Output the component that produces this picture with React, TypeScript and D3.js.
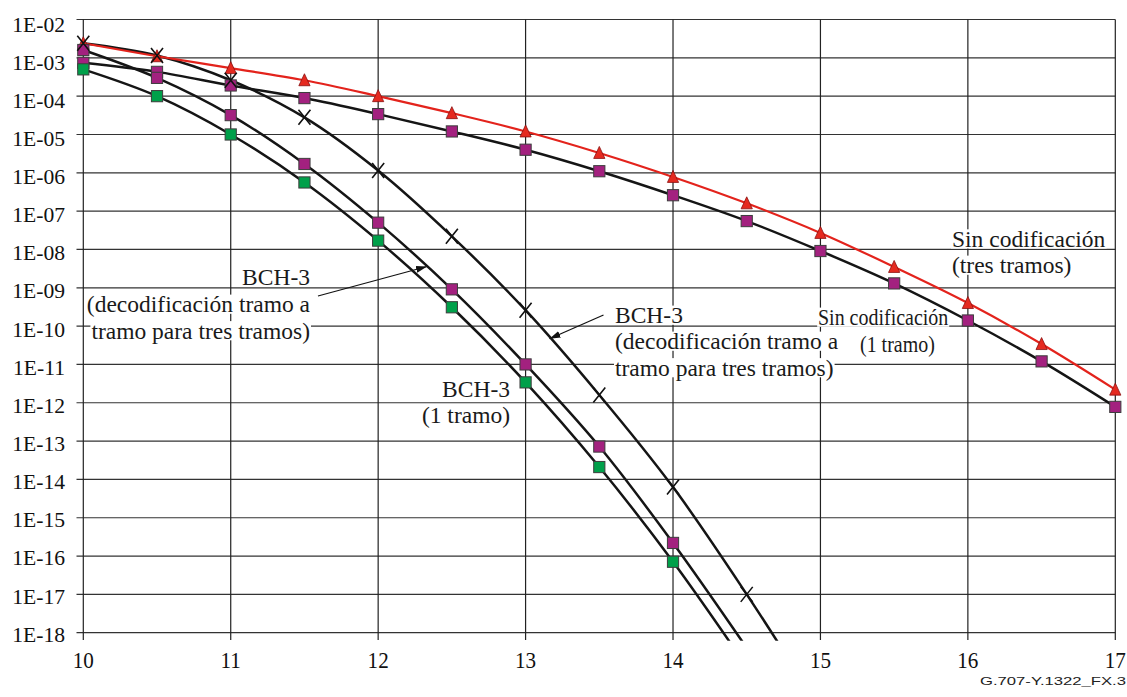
import React, { useEffect, useRef } from "react";
import * as d3 from "d3";

// ---- data ----
const xMain = [10, 10.5, 11, 11.5, 12, 12.5, 13, 13.5, 14, 14.5, 15, 15.5, 16, 16.5, 17];
// Sin codificación (tres tramos) – red triangles
const uncodedThreeSpans = [2.4e-3, 1.1e-3, 5.4e-4, 2.6e-4, 1.0e-4, 3.6e-5, 1.2e-5, 3.3e-6, 7.8e-7, 1.6e-7, 2.7e-8, 3.5e-9, 4.0e-10, 3.4e-11, 2.2e-12];
// Sin codificación (1 tramo) – purple squares
const uncodedOneSpan = [7.4e-4, 4.3e-4, 1.9e-4, 8.9e-5, 3.4e-5, 1.2e-5, 4.0e-6, 1.1e-6, 2.6e-7, 5.5e-8, 9.1e-9, 1.3e-9, 1.4e-10, 1.2e-11, 7.8e-13];
// BCH-3 (three spans, end-to-end) – X markers
const xBchThree = [10, 10.5, 11, 11.5, 12, 12.5, 13, 13.5, 14, 14.5, 15];
const bchThreeSpans = [2.4e-3, 1.15e-3, 2.6e-4, 2.8e-5, 1.15e-6, 2.2e-8, 2.6e-10, 1.6e-12, 6.3e-15, 1.0e-17, 1.0e-20];
// BCH-3 (decodificación tramo a tramo para tres tramos) – purple squares
const xBchDecoded = [10, 10.5, 11, 11.5, 12, 12.5, 13, 13.5, 14, 14.5];
const bchDecodedPerSpan = [1.6e-3, 3.0e-4, 3.2e-5, 1.7e-6, 5.0e-8, 9.1e-10, 1.0e-11, 7.2e-14, 2.2e-16, 4.0e-19];
// BCH-3 (1 tramo) – green squares
const xBchOne = [10, 10.5, 11, 11.5, 12, 12.5, 13, 13.5, 14, 14.5];
const bchOneSpan = [5.0e-4, 1.0e-4, 1.0e-5, 5.6e-7, 1.7e-8, 3.1e-10, 3.4e-12, 2.1e-14, 7.1e-17, 1.3e-19];

const xTicks = [10, 11, 12, 13, 14, 15, 16, 17];
const yTickExps = [-2, -3, -4, -5, -6, -7, -8, -9, -10, -11, -12, -13, -14, -15, -16, -17, -18];
const yTickLabels = yTickExps.map((e) => `1E-${String(-e).padStart(2, "0")}`);

const W = 1127;
const H = 697;
const SERIF = "'Liberation Serif', 'Times New Roman', serif";

export default function App() {
  const ref = useRef<SVGSVGElement | null>(null);

  useEffect(() => {
    document.body.style.margin = "0";
    const svg = d3.select(ref.current!);
    svg.selectAll("*").remove();

    const x = d3.scaleLinear().domain([10, 17]).range([83.3, 1115.3]);
    const y = d3.scaleLog().domain([1e-2, 1e-18]).range([19.5, 632.7]);
    const yMin = 1e-18;

    const defs = svg.append("defs");
    defs
      .append("clipPath")
      .attr("id", "plotclip")
      .append("rect")
      .attr("x", 0)
      .attr("y", 0)
      .attr("width", W)
      .attr("height", 640.7);
    defs
      .append("marker")
      .attr("id", "arrow")
      .attr("markerUnits", "userSpaceOnUse")
      .attr("markerWidth", 12)
      .attr("markerHeight", 8)
      .attr("refX", 11)
      .attr("refY", 4)
      .attr("orient", "auto")
      .append("path")
      .attr("d", "M0,0.5 L11,4 L0,7.5 Z")
      .attr("fill", "#111");

    svg.append("rect").attr("width", W).attr("height", H).attr("fill", "#fff");

    // grid
    const grid = svg.append("g");
    yTickExps.forEach((e) => {
      const yy = y(Math.pow(10, e));
      grid
        .append("line")
        .attr("x1", 76.5)
        .attr("x2", x(17))
        .attr("y1", yy)
        .attr("y2", yy)
        .attr("stroke", "#333")
        .attr("stroke-width", 1.2);
    });
    xTicks.forEach((t) => {
      grid
        .append("line")
        .attr("x1", x(t))
        .attr("x2", x(t))
        .attr("y1", y(1e-2))
        .attr("y2", 640)
        .attr("stroke", "#222")
        .attr("stroke-width", 1.2);
    });

    // tick labels
    const yl = svg.append("g").attr("font-family", SERIF).attr("font-size", 20).attr("fill", "#111");
    yTickExps.forEach((e, i) => {
      const yy = y(Math.pow(10, e)) + 12 - (3 * i) / 16;
      yl.append("text")
        .attr("transform", `translate(65,${yy}) scale(1.08,1)`)
        .attr("text-anchor", "end")
        .text(yTickLabels[i]);
    });
    const xl = svg.append("g").attr("font-family", SERIF).attr("font-size", 24).attr("fill", "#111");
    xTicks.forEach((t) => {
      xl.append("text")
        .attr("transform", `translate(${x(t)},668) scale(0.88,1)`)
        .attr("text-anchor", "middle")
        .text(String(t));
    });

    // annotations with white backing per line
    const ann = svg.append("g").attr("font-family", SERIF).attr("fill", "#1a1a1a");
    const addText = (str: string, tx: number, ty: number, anchor: string, fs: number, sx: number) => {
      const g = ann.append("g").attr("transform", `translate(${tx},${ty}) scale(${sx},1)`);
      const rect = g.append("rect").attr("fill", "#fff");
      const t = g.append("text").attr("text-anchor", anchor).attr("font-size", fs).text(str);
      const bb = (t.node() as SVGTextElement).getBBox();
      rect
        .attr("x", bb.x - 1)
        .attr("width", bb.width + 2)
        .attr("y", -0.74 * fs)
        .attr("height", 0.74 * fs + 1.8);
    };
    const FS = 23.5;
    addText("BCH-3", 310, 285, "end", FS, 1);
    addText("(decodificación tramo a", 310, 312, "end", FS, 1);
    addText("tramo para tres tramos)", 310, 338.5, "end", FS, 1);
    addText("BCH-3", 615, 323, "start", FS, 1);
    addText("(decodificación tramo a", 615, 349, "start", FS, 1);
    addText("tramo para tres tramos)", 615, 375.5, "start", FS, 1);
    addText("BCH-3", 510, 397, "end", FS, 1);
    addText("(1 tramo)", 510, 423, "end", FS, 1);
    addText("Sin codificación", 952, 246.7, "start", FS, 1);
    addText("(tres tramos)", 952, 273, "start", FS, 1);
    addText("Sin codificación", 818, 325, "start", FS, 0.85);
    addText("(1 tramo)", 860, 351.7, "start", FS, 0.85);

    // arrows
    svg
      .append("line")
      .attr("x1", 318)
      .attr("y1", 296)
      .attr("x2", 427)
      .attr("y2", 266.5)
      .attr("stroke", "#111")
      .attr("stroke-width", 1.2)
      .attr("marker-end", "url(#arrow)");
    svg
      .append("line")
      .attr("x1", 603.5)
      .attr("y1", 315)
      .attr("x2", 549.5)
      .attr("y2", 338.8)
      .attr("stroke", "#111")
      .attr("stroke-width", 1.2)
      .attr("marker-end", "url(#arrow)");

    // series
    const series = [
      { xs: xBchThree, ys: bchThreeSpans, color: "#151515", width: 2.5, marker: "x" },
      { xs: xMain, ys: uncodedOneSpan, color: "#151515", width: 2.5, marker: "purple" },
      { xs: xBchDecoded, ys: bchDecodedPerSpan, color: "#151515", width: 2.5, marker: "purple" },
      { xs: xBchOne, ys: bchOneSpan, color: "#151515", width: 2.5, marker: "green" },
      { xs: xMain, ys: uncodedThreeSpans, color: "#e3231c", width: 2.2, marker: "tri" },
    ];
    const line = d3
      .line<[number, number]>()
      .x((d) => x(d[0]))
      .y((d) => y(d[1]))
      .curve(d3.curveCatmullRom.alpha(0.5));
    const lg = svg.append("g").attr("clip-path", "url(#plotclip)");
    series.forEach((s) => {
      const pts = s.xs.map((xv, i) => [xv, s.ys[i]] as [number, number]);
      lg.append("path")
        .attr("d", line(pts)!)
        .attr("fill", "none")
        .attr("stroke", s.color)
        .attr("stroke-width", s.width)
        .attr("stroke-linejoin", "round");
    });

    const mg = svg.append("g");
    const markerOrder = [4, 1, 3, 2, 0];
    markerOrder.forEach((idx) => {
      const s = series[idx];
      s.xs.forEach((xv, i) => {
        const v = s.ys[i];
        if (v < yMin * 0.999) return;
        const cx = x(xv);
        const cy = y(v);
        if (s.marker === "purple" || s.marker === "green") {
          mg.append("rect")
            .attr("x", cx - 5.6)
            .attr("y", cy - 5.6)
            .attr("width", 11.2)
            .attr("height", 11.2)
            .attr("fill", s.marker === "purple" ? "#a3217f" : "#00a04a")
            .attr("stroke", "#3d3d3d")
            .attr("stroke-width", 1);
        } else if (s.marker === "tri") {
          mg.append("path")
            .attr("d", `M${cx},${cy - 6.5} L${cx + 5.6},${cy + 5.5} L${cx - 5.6},${cy + 5.5} Z`)
            .attr("fill", "#e52a20")
            .attr("stroke", "#8a1010")
            .attr("stroke-width", 0.8);
        } else {
          mg.append("path")
            .attr("d", `M${cx - 6},${cy - 7.5} L${cx + 6},${cy + 7.5} M${cx + 6},${cy - 7.5} L${cx - 6},${cy + 7.5}`)
            .attr("stroke", "#111")
            .attr("stroke-width", 1.6)
            .attr("fill", "none");
        }
      });
    });

    // footer
    svg
      .append("text")
      .attr("x", 980)
      .attr("y", 685)
      .attr("font-family", "'Liberation Sans', Arial, sans-serif")
      .attr("font-size", 11)
      .attr("textLength", 146)
      .attr("lengthAdjust", "spacingAndGlyphs")
      .attr("fill", "#222")
      .text("G.707-Y.1322_FX.3");
  }, []);

  return <svg ref={ref} width={W} height={H} style={{ display: "block" }} />;
}
